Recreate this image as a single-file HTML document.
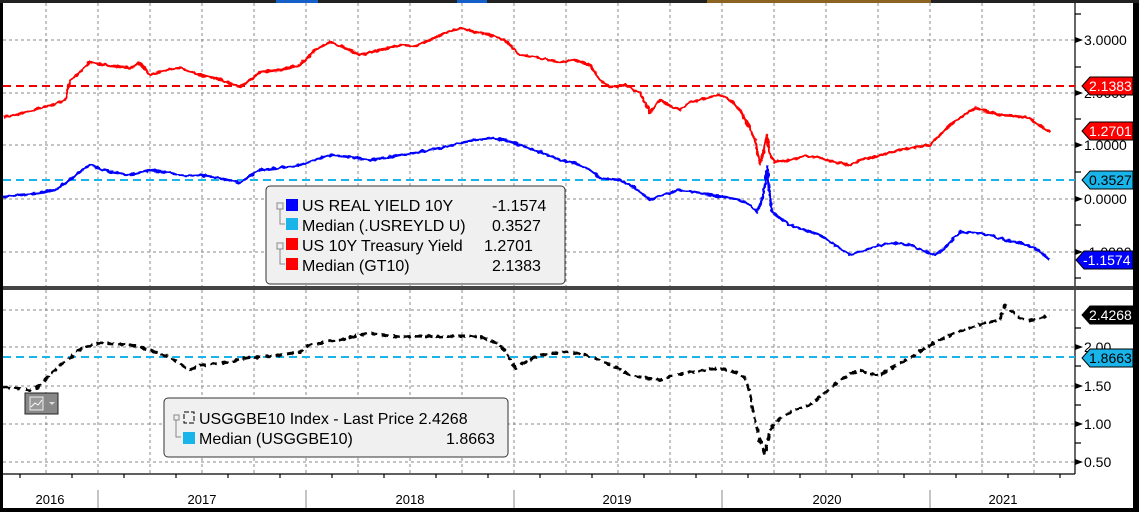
<!DOCTYPE html>
<html><head><meta charset="utf-8"><style>
html,body{margin:0;padding:0;background:#000;}
svg{display:block;font-family:"Liberation Sans",sans-serif;}
</style></head><body>
<svg width="1139" height="512" viewBox="0 0 1139 512" xmlns="http://www.w3.org/2000/svg">
<defs>
<filter id="rough" x="-2%" y="-10%" width="104%" height="120%">
<feTurbulence type="fractalNoise" baseFrequency="0.25" numOctaves="1" seed="3" result="n"/>
<feDisplacementMap in="SourceGraphic" in2="n" scale="4" xChannelSelector="R" yChannelSelector="G"/>
</filter>
</defs>
<rect x="0" y="0" width="1139" height="512" fill="#000"/>
<rect x="3" y="3" width="1130" height="505" fill="#fff"/>
<rect x="0" y="0" width="1139" height="3" fill="#222"/>
<rect x="276" y="0" width="42" height="3" fill="#1560c8"/>
<rect x="457" y="0" width="30" height="3" fill="#1560c8"/>
<rect x="707" y="0" width="224" height="3" fill="#8a6420"/>
<rect x="3" y="286" width="1130" height="4" fill="#444"/>
<g stroke="#888" stroke-width="1" stroke-dasharray="3,3">
<path d="M46 3V286M98 3V286M150 3V286M202 3V286M254 3V286M306 3V286M358 3V286M410 3V286M462 3V286M514 3V286M566 3V286M618 3V286M670 3V286M722 3V286M774 3V286M826 3V286M878 3V286M930 3V286M982 3V286M1034 3V286"/>
<path d="M46 290V474M98 290V474M150 290V474M202 290V474M254 290V474M306 290V474M358 290V474M410 290V474M462 290V474M514 290V474M566 290V474M618 290V474M670 290V474M722 290V474M774 290V474M826 290V474M878 290V474M930 290V474M982 290V474M1034 290V474"/>
<path d="M3 40H1075M3 93H1075M3 145H1075M3 199H1075M3 252H1075"/>
<path d="M3 310H1075M3 347H1075M3 386H1075M3 424H1075M3 462H1075"/>
</g>
<g stroke="#000" stroke-width="1.2" fill="none">
<path d="M1075 3V286M1075 290V474M3 474H1075"/>
<path d="M1075 14h6M1075 67h6M1075 119h6M1075 172h6M1075 225h6M1075 278h6M1075 328h6M1075 366h6M1075 405h6M1075 443h6"/>
<path d="M20 474v4M72 474v4M124 474v4M176 474v4M228 474v4M280 474v4M332 474v4M384 474v4M436 474v4M488 474v4M540 474v4M592 474v4M644 474v4M696 474v4M748 474v4M800 474v4M852 474v4M904 474v4M956 474v4M1008 474v4M1060 474v4"/>
</g>
<g fill="#000"><path d="M1075 37l8 3-8 3zM1075 90l8 3-8 3zM1075 142l8 3-8 3zM1075 196l8 3-8 3zM1075 249l8 3-8 3zM1075 344l8 3-8 3zM1075 383l8 3-8 3zM1075 421l8 3-8 3zM1075 459l8 3-8 3z"/></g>
<g stroke="#888"><path d="M98 490V508M306 490V508M514 490V508M722 490V508M930 490V508"/></g>
<g font-size="13" fill="#000" text-anchor="middle">
<text x="50" y="504">2016</text><text x="202" y="504">2017</text><text x="410" y="504">2018</text><text x="617" y="504">2019</text><text x="827" y="504">2020</text><text x="1003" y="504">2021</text>
</g>
<g font-size="14" fill="#000">
<text x="1084" y="45">3.0000</text><text x="1084" y="98">2.0000</text><text x="1084" y="150">1.0000</text><text x="1084" y="204">0.0000</text><text x="1084" y="257">-1.0000</text>
<text x="1084" y="352">2.00</text><text x="1084" y="391">1.50</text><text x="1084" y="429">1.00</text><text x="1084" y="467">0.50</text>
</g>
<g stroke-width="2" stroke-dasharray="8,5" fill="none">
<path d="M3 86H1075" stroke="#e00"/>
<path d="M3 180H1075" stroke="#19b4ea"/>
<path d="M3 357H1075" stroke="#19b4ea"/>
</g>
<g filter="url(#rough)">
<polyline fill="none" stroke="#f00" stroke-width="2.5" stroke-linejoin="round" points="3,117 20,114 40,108 55,104 65,100 70,80 80,72 90,62 110,66 130,68 140,63 150,75 165,70 180,68 200,75 215,78 240,87 250,80 260,72 280,70 300,65 315,50 330,42 345,48 360,55 380,50 400,45 415,46 430,40 445,33 460,28 475,32 490,35 505,40 520,55 540,58 560,62 575,60 590,65 600,80 610,87 625,85 640,93 650,112 660,100 670,106 680,110 690,102 700,100 710,97 720,95 730,100 740,110 748,125 755,140 760,165 764,150 767,135 770,155 775,162 790,160 805,156 820,158 835,162 850,165 860,160 870,158 885,154 900,150 915,147 930,145 940,135 950,125 960,118 975,108 990,112 1000,115 1015,116 1030,118 1040,126 1050,132"/>
<polyline fill="none" stroke="#00f" stroke-width="2.5" stroke-linejoin="round" points="3,197 20,195 40,193 55,190 70,180 80,172 90,165 110,172 130,175 150,170 170,173 185,176 200,175 220,178 240,183 250,176 260,170 280,168 300,165 315,160 330,155 350,157 370,160 385,158 400,155 415,153 430,150 445,147 460,143 475,140 490,138 505,140 520,145 540,152 560,160 575,163 590,170 600,178 620,180 635,188 650,200 665,194 680,190 695,192 710,195 725,197 740,200 750,205 757,212 762,200 765,185 767,167 769,190 772,212 780,218 790,225 805,230 820,235 835,245 850,255 865,250 880,245 895,243 910,245 922,250 935,255 945,248 960,232 975,233 990,235 1005,240 1020,243 1035,248 1050,260"/>
<polyline fill="none" stroke="#000" stroke-width="3" stroke-dasharray="7,4" stroke-linejoin="round" points="3,387 15,388 30,390 40,386 45,380 55,370 60,365 70,358 75,352 88,346 100,343 115,344 130,345 140,347 150,350 160,354 170,357 180,364 190,370 200,365 215,364 230,362 245,358 260,357 280,355 300,352 305,348 310,345 325,342 340,340 355,336 370,333 385,335 400,337 420,336 440,337 455,336 470,336 485,338 500,345 508,355 515,368 525,362 540,355 555,353 570,352 585,355 600,360 615,367 630,375 645,378 660,380 675,375 690,372 705,370 720,368 735,372 745,378 750,395 755,420 760,440 765,455 768,440 770,430 778,420 785,415 795,410 810,405 825,393 840,380 850,374 860,370 870,374 880,375 895,366 910,358 925,348 940,340 955,333 970,328 985,323 1000,320 1005,305 1012,312 1020,318 1030,320 1040,318 1050,315"/>
</g>
<g font-size="14">
<path d="M1090 77H1133V95H1090L1082 86Z" fill="#f00" stroke="#000"/><text x="1089" y="91" fill="#fff">2.1383</text>
<path d="M1090 122H1133V140H1090L1082 131Z" fill="#f00" stroke="#000"/><text x="1089" y="136" fill="#fff">1.2701</text>
<path d="M1090 171H1133V189H1090L1082 180Z" fill="#19b4ea" stroke="#000"/><text x="1089" y="185" fill="#000">0.3527</text>
<path d="M1084 251H1133V269H1084L1076 260Z" fill="#00f" stroke="#000"/><text x="1083" y="265" fill="#fff">-1.1574</text>
<path d="M1090 306H1133V324H1090L1082 315Z" fill="#000" stroke="#000"/><text x="1089" y="320" fill="#fff">2.4268</text>
<path d="M1090 349H1133V367H1090L1082 358Z" fill="#19b4ea" stroke="#000"/><text x="1089" y="363" fill="#000">1.8663</text>
</g>
<rect x="266" y="186" width="299" height="98" rx="4" fill="#f0f0f0" stroke="#333"/>
<g stroke="#888" fill="none">
<rect x="277" y="203" width="6" height="6"/><path d="M280 209V224H285"/>
<rect x="277" y="243" width="6" height="6"/><path d="M280 249V264H285"/>
</g>
<rect x="286" y="199" width="12" height="12" fill="#00f"/>
<rect x="286" y="218" width="12" height="12" fill="#19b4ea"/>
<rect x="286" y="238" width="12" height="12" fill="#f00"/>
<rect x="286" y="258" width="12" height="12" fill="#f00"/>
<g font-size="16" fill="#000">
<text x="302" y="211">US REAL YIELD 10Y</text><text x="492" y="211">-1.1574</text>
<text x="302" y="231">Median (.USREYLD U)</text><text x="492" y="231">0.3527</text>
<text x="302" y="251">US 10Y Treasury Yield</text><text x="484" y="251">1.2701</text>
<text x="302" y="271">Median (GT10)</text><text x="492" y="271">2.1383</text>
</g>
<rect x="25" y="393" width="33" height="21" fill="#888" stroke="#222"/>
<rect x="30" y="397" width="13" height="13" fill="#999" stroke="#eee"/>
<path d="M31 407l4-4 3 2 4-5" stroke="#fff" fill="none"/>
<path d="M49 402h6l-3 3z" fill="#ddd"/>
<rect x="164" y="398" width="344" height="59" rx="4" fill="#f0f0f0" stroke="#333"/>
<g stroke="#888" fill="none"><rect x="174" y="415" width="5" height="5"/><path d="M176 420V437H181"/></g>
<rect x="184" y="412" width="10" height="11" fill="none" stroke="#000" stroke-dasharray="5,2"/>
<rect x="183" y="432" width="12" height="12" fill="#19b4ea"/>
<g font-size="16" fill="#000">
<text x="199" y="424">USGGBE10 Index - Last Price 2.4268</text>
<text x="199" y="444">Median (USGGBE10)</text><text x="446" y="444">1.8663</text>
</g>
</svg>
</body></html>
